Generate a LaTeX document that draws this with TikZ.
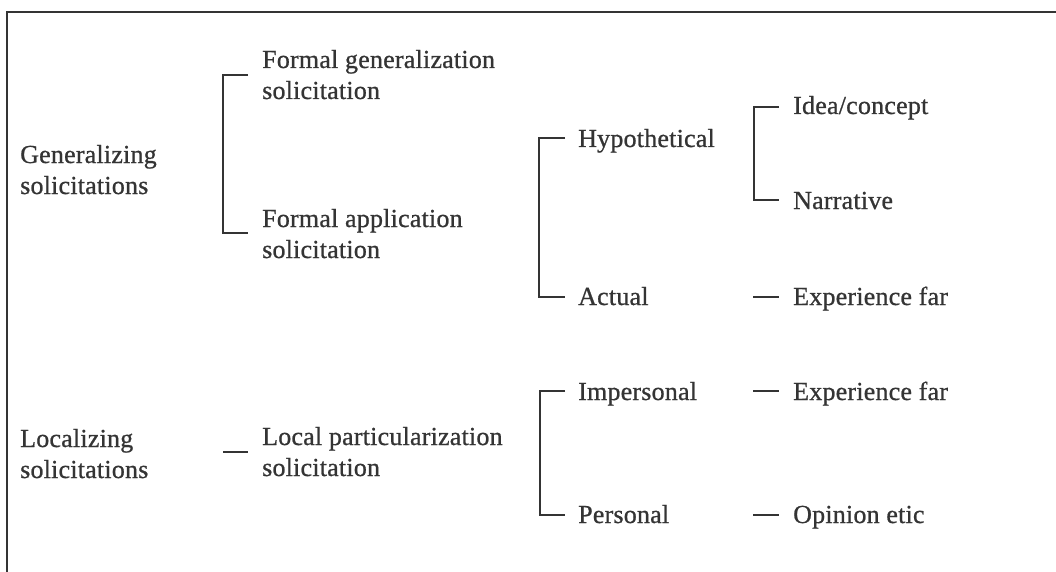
\documentclass[tikz,border=0pt]{standalone}
\usepackage{fontspec}
\setmainfont{Liberation Serif}[LetterSpace=0.8,FakeBold=0.8]
\definecolor{ink}{RGB}{52,52,52}
\begin{document}
\begin{tikzpicture}[x=1pt,y=-1pt,
  lbl/.style={anchor=base west, inner sep=0pt, align=left, text=ink,
              font=\fontsize{26}{31}\selectfont},
  link/.style={draw=ink, line width=1.6pt},
  frameline/.style={draw=ink, line width=1.4pt}]
\useasboundingbox (0,0) rectangle (1056,572);
% open frame: top and left edges only
\draw[frameline] (7,572) -- (7,12) -- (1056,12);

% first column (two-line labels sit on their last baseline)
\node[lbl] (gen) at (20,194) {Generalizing\\solicitations};
\node[lbl] (loc) at (20,478) {Localizing\\solicitations};
% second column
\node[lbl] (fg) at (262,99)  {Formal generalization\\solicitation};
\node[lbl] (fa) at (262,258) {Formal application\\solicitation};
\node[lbl] (lp) at (262,476) {Local particularization\\solicitation};
% third column
\node[lbl] (hyp) at (578,147) {Hypothetical};
\node[lbl] (act) at (578,305) {Actual};
\node[lbl] (imp) at (578,400) {Impersonal};
\node[lbl] (per) at (578,523) {Personal};
% fourth column
\node[lbl] (idea) at (793,114) {Idea/concept};
\node[lbl] (nar)  at (793,209) {Narrative};
\node[lbl] (ef1)  at (793,305) {Experience far};
\node[lbl] (ef2)  at (793,400) {Experience far};
\node[lbl] (op)   at (793,523) {Opinion etic};

% brackets joining sibling entries
\draw[link] ([xshift=-14pt,yshift=24pt]fg.base west) -| ([xshift=-39pt,yshift=25pt]fa.base west)
            -- ([xshift=-14pt,yshift=25pt]fa.base west);
\draw[link] ([xshift=-13pt,yshift=9pt]hyp.base west) -| ([xshift=-39pt,yshift=8pt]act.base west)
            -- ([xshift=-13pt,yshift=8pt]act.base west);
\draw[link] ([xshift=-13pt,yshift=9pt]imp.base west) -| ([xshift=-38pt,yshift=8pt]per.base west)
            -- ([xshift=-13pt,yshift=8pt]per.base west);
\draw[link] ([xshift=-14pt,yshift=7pt]idea.base west) -| ([xshift=-39pt,yshift=9pt]nar.base west)
            -- ([xshift=-14pt,yshift=9pt]nar.base west);

% single dashes
\draw[link] ([xshift=-39pt,yshift=24pt]lp.base west) -- ([xshift=-14pt,yshift=24pt]lp.base west);
\draw[link] ([xshift=-40pt,yshift=8pt]ef1.base west) -- ([xshift=-14pt,yshift=8pt]ef1.base west);
\draw[link] ([xshift=-40pt,yshift=9pt]ef2.base west) -- ([xshift=-14pt,yshift=9pt]ef2.base west);
\draw[link] ([xshift=-40pt,yshift=8pt]op.base west) -- ([xshift=-14pt,yshift=8pt]op.base west);
\end{tikzpicture}
\end{document}
